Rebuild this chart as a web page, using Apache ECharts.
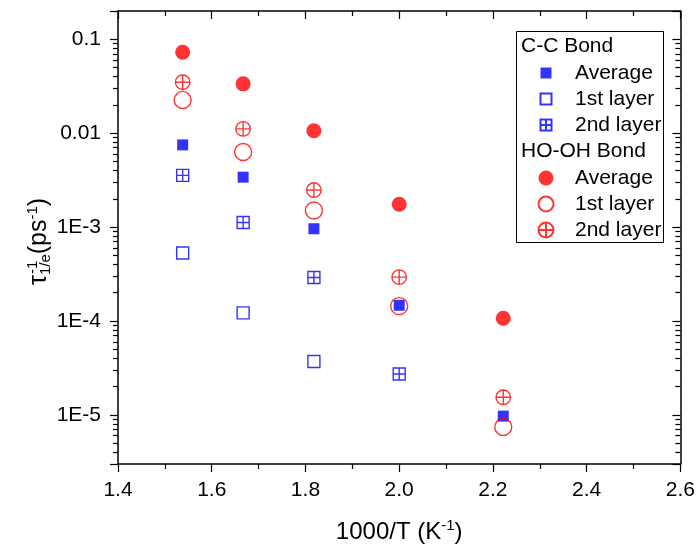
<!DOCTYPE html>
<html>
<head>
<meta charset="utf-8">
<script src="https://cdn.jsdelivr.net/npm/echarts@6/dist/echarts.min.js"></script>
<style>
  html, body { margin: 0; padding: 0; background: #fff; }
  #chart { width: 698px; height: 550px; }
</style>
</head>
<body>
<div id="chart"></div>
<script>
// Inverse temperature, 1000/T (K^-1)
const invT = [1.538, 1.667, 1.818, 2.0, 2.222];

// Decay rates tau_{1/e}^-1 (ps^-1); null = no point
const ccAverage = [7.5e-3, 3.4e-3, 9.6e-4, 1.47e-4, 9.7e-6];
const ccFirst   = [5.3e-4, 1.22e-4, 3.7e-5, null, null];
const ccSecond  = [3.55e-3, 1.12e-3, 2.9e-4, 2.73e-5, null];
const ohAverage = [0.0727, 0.0335, 0.0106, 1.75e-3, 1.07e-4];
const ohFirst   = [0.0226, 6.3e-3, 1.5e-3, 1.44e-4, 7.45e-6];
const ohSecond  = [0.0349, 0.0111, 2.48e-3, 2.93e-4, 1.54e-5];

// Axis range, ticks and labels
const xTicks = [1.4, 1.6, 1.8, 2.0, 2.2, 2.4, 2.6];
const yRange = [3e-6, 0.2];
const yMajorTicks = [1e-5, 1e-4, 1e-3, 1e-2, 1e-1];
const yTickLabels = ['1E-5', '1E-4', '1E-3', '0.01', '0.1'];

const FONT = 'Arial, "Liberation Sans", sans-serif';
const BLUE = '#0000ff';
const RED = '#ff0000';
const SEP = ' \u00b7 ';

const square = 'path://M0,0L20,0L20,20L0,20Z';
const crossSquare = 'path://M0,0L20,0L20,20L0,20ZM10,0L10,20M0,10L20,10';
const crossCircle = 'path://M10,0A10,10,0,1,1,-10,0A10,10,0,1,1,10,0ZM-10,0L10,0M0,-10L0,10';

function pairs(ys) {
  const out = [];
  ys.forEach((y, i) => { if (y != null) out.push([invT[i], y]); });
  return out;
}

function scatter(name, ys, symbol, size, itemStyle) {
  return {
    type: 'scatter', name: name, data: pairs(ys),
    symbol: symbol, symbolSize: size, symbolKeepAspect: true,
    itemStyle: itemStyle, emphasis: { disabled: true }, silent: true
  };
}

const open = (c) => ({ color: 'rgba(0,0,0,0)', borderColor: c, borderWidth: 1.4 });

const ccNames = ['Average', '1st layer', '2nd layer'].map(s => 'C-C Bond' + SEP + s);
const ohNames = ['Average', '1st layer', '2nd layer'].map(s => 'HO-OH Bond' + SEP + s);

const xMin = xTicks[0];
const xMax = xTicks[xTicks.length - 1];

const series = [
  scatter(ccNames[0], ccAverage, square, 11, { color: BLUE }),
  scatter(ccNames[1], ccFirst, square, 12, open(BLUE)),
  scatter(ccNames[2], ccSecond, crossSquare, 12, open(BLUE)),
  scatter(ohNames[0], ohAverage, 'circle', 15, { color: RED }),
  scatter(ohNames[1], ohFirst, 'circle', 17, open(RED)),
  scatter(ohNames[2], ohSecond, crossCircle, 14.5, open(RED))
];

const lineStyle = { color: '#000', width: 1.5 };
const tickStyle = { color: '#000', width: 1.2 };

function xAxisDef(pos) {
  const bottom = pos === 'bottom';
  return {
    type: 'value', position: pos, min: xMin, max: xMax, interval: 0.2,
    axisLine: { show: true, onZero: false, lineStyle: lineStyle },
    axisTick: { show: true, inside: !bottom, length: 8, lineStyle: tickStyle },
    minorTick: { show: true, splitNumber: 2, length: 5, lineStyle: tickStyle },
    splitLine: { show: false },
    axisLabel: {
      show: bottom, color: '#000', fontSize: 21, fontFamily: FONT, margin: 16,
      formatter: (v) => v.toFixed(1)
    },
    name: bottom ? '{m|1000/T (K}{sup|-1}{m|)}' : '',
    nameLocation: 'middle', nameGap: 54,
    nameTextStyle: {
      rich: {
        m: { fontSize: 24, fontFamily: FONT, color: '#000', lineHeight: 28 },
        sup: { fontSize: 15, fontFamily: FONT, color: '#000', lineHeight: 15, verticalAlign: 'top' }
      }
    }
  };
}

// Log axis: decade ticks from the scale, labelled only at whole decades
function yAxisDef(pos) {
  const left = pos === 'left';
  return {
    type: 'log', logBase: 10, position: pos, min: yRange[0], max: yRange[1],
    axisLine: { show: true, onZero: false, lineStyle: lineStyle },
    axisTick: { show: true, inside: !left, length: 8, lineStyle: tickStyle },
    minorTick: { show: true, splitNumber: 9, length: 5, lineStyle: tickStyle },
    splitLine: { show: false },
    minorSplitLine: { show: false },
    axisLabel: {
      show: left, color: '#000', fontSize: 21, fontFamily: FONT, margin: 17,
      formatter: (v) => {
        const i = yMajorTicks.findIndex(t => Math.abs(Math.log10(t) - Math.log10(v)) < 1e-6);
        return i >= 0 ? yTickLabels[i] : '';
      }
    }
  };
}

function legendDef(names, top, icon, left, gap) {
  return {
    orient: 'vertical', left: left, top: top, padding: 0,
    itemGap: 5, itemWidth: icon, itemHeight: icon,
    selectedMode: false, data: names,
    formatter: (n) => n.split(SEP)[1],
    textStyle: { fontSize: 21, lineHeight: 21, color: '#000', fontFamily: FONT, padding: [0, 0, 0, gap] }
  };
}

const textStyleBase = { fontFamily: FONT, fill: '#000' };

const option = {
  backgroundColor: '#fff',
  animation: false,
  grid: { left: 118, right: 17, top: 11, bottom: 86, containLabel: false },
  xAxis: [xAxisDef('bottom'), xAxisDef('top')],
  yAxis: [yAxisDef('left'), yAxisDef('right')],
  legend: [
    legendDef(ccNames, 62.5, 11, 539.5, 18.5),
    legendDef(ohNames, 167.5, 15, 537.5, 16.5)
  ],
  graphic: [
    { type: 'rect', shape: { x: 516.5, y: 31.5, width: 147, height: 211 },
      style: { fill: 'none', stroke: '#000', lineWidth: 1 }, silent: true },
    { type: 'text', x: 521, y: 46,
      style: Object.assign({ text: 'C-C Bond', fontSize: 21, verticalAlign: 'middle', align: 'left' }, textStyleBase) },
    { type: 'text', x: 521, y: 151,
      style: Object.assign({ text: 'HO-OH Bond', fontSize: 21, verticalAlign: 'middle', align: 'left' }, textStyleBase) },
    { type: 'group', x: 39, y: 285, rotation: Math.PI / 2, children: [
      { type: 'text', x: 0, y: 0, style: {
          text: '{m|\u03c4}{sub|1/e}{m|(ps}{sup|-1}{m|)}',
          align: 'left', verticalAlign: 'middle',
          rich: {
            m: { fontSize: 25, fontFamily: FONT, fill: '#000', lineHeight: 28 },
            sub: { fontSize: 15, fontFamily: FONT, fill: '#000', lineHeight: 15, verticalAlign: 'bottom' },
            sup: { fontSize: 15, fontFamily: FONT, fill: '#000', lineHeight: 15, verticalAlign: 'top' }
          }
        } },
      { type: 'text', x: 11, y: -6.5, style: Object.assign({
          text: '-1', fontSize: 15, align: 'left', verticalAlign: 'middle' }, textStyleBase) }
    ] }
  ],
  series: series
};

const chart = echarts.init(document.getElementById('chart'), null, { renderer: 'canvas' });
chart.setOption(option);
</script>
</body>
</html>
